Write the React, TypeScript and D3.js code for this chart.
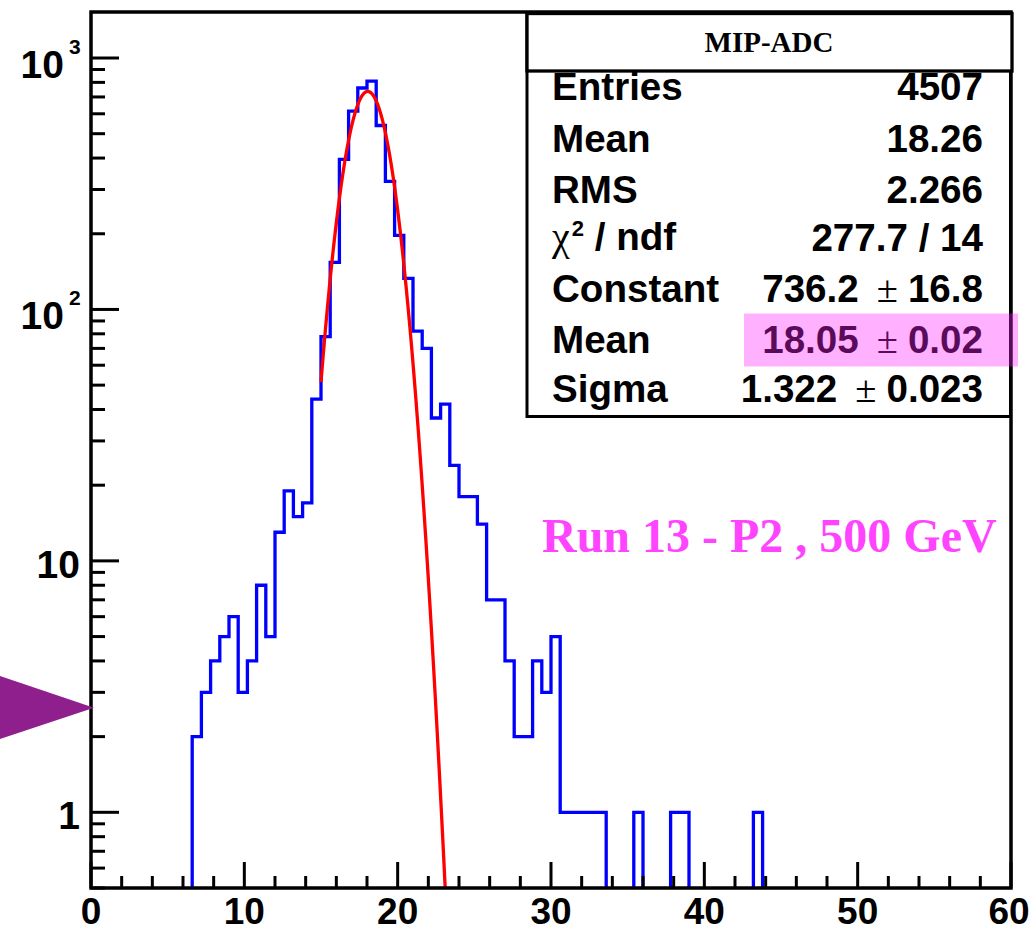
import React from 'react';
import * as d3 from 'd3';

// ---------- data ----------
const BIN_WIDTH = 0.6;
const FIRST_BIN_LOW = 6.6;
// bin contents starting at FIRST_BIN_LOW (bins 11..72 of 100 bins on [0,60])
const counts = [
  2, 3, 4, 5, 6, 3, 4, 8, 5, 13, 19, 15, 17, 44, 78, 154, 395, 615, 760, 809,
  539, 323, 197, 133, 82, 70, 37, 42, 24, 18, 18, 14, 7, 7, 4, 2, 2, 4, 3, 5,
  1, 1, 1, 1, 1, 0, 0, 0, 1, 0, 0, 0, 1, 1, 0, 0, 0, 0, 0, 0, 0, 1,
];
const xMajorTicks = [0, 10, 20, 30, 40, 50, 60];
const xMinorTicks = [2, 4, 6, 8, 12, 14, 16, 18, 22, 24, 26, 28, 32, 34, 36, 38, 42, 44, 46, 48, 52, 54, 56, 58];
const yMajorTicks = [1, 10, 100, 1000];
const yTickBase = ['1', '10', '10', '10'];
const yTickExp = ['', '', '2', '3'];

const FIT_CONSTANT = 736.2;
const FIT_MEAN = 18.05;
const FIT_SIGMA = 1.322;
const FIT_XMIN = 15.0;
const FIT_XMAX = 25.0;

const statTitle = 'MIP-ADC';
const statLabels = ['Entries', 'Mean', 'RMS', 'χ2 / ndf', 'Constant', 'Mean', 'Sigma'];
const statValues = ['4507', '18.26', '2.266', '277.7 / 14', '736.2 ± 16.8', '18.05 ± 0.02', '1.322 ± 0.023'];
const annotation = 'Run 13 - P2 , 500 GeV';

// ---------- layout ----------
const W = 1036;
const H = 932;
const L = 91;
const R = 1011;
const T = 12;
const B = 888;

const SANS = "'Liberation Sans', Arial, Helvetica, sans-serif";
const SERIF = "'Liberation Serif', 'Times New Roman', serif";

export default function App() {
  const x = d3.scaleLinear().domain([0, 60]).range([L, R]);
  const y = d3.scaleLog().domain([0.5, 1524]).range([B, T]);

  // histogram step outline
  const pts: [number, number][] = [];
  const yv = (v: number) => (v > 0 ? y(v) : B + 10);
  pts.push([x(FIRST_BIN_LOW), B + 10]);
  counts.forEach((c, i) => {
    const lo = FIRST_BIN_LOW + i * BIN_WIDTH;
    const hi = lo + BIN_WIDTH;
    pts.push([x(lo), yv(c)]);
    pts.push([x(hi), yv(c)]);
  });
  pts.push([x(FIRST_BIN_LOW + counts.length * BIN_WIDTH), B + 10]);
  const histPath = d3.line()(pts) || '';

  const fitX = d3.range(FIT_XMIN, FIT_XMAX + 1e-9, 0.02);
  const fitPts: [number, number][] = fitX.map((v) => {
    const g = FIT_CONSTANT * Math.exp(-0.5 * Math.pow((v - FIT_MEAN) / FIT_SIGMA, 2));
    return [x(v), g > 0.05 ? y(Math.max(g, 0.05)) : B + 200];
  });
  const fitPath = d3.line().curve(d3.curveLinear)(fitPts) || '';

  // y minor ticks
  const yMinor: number[] = [];
  [0.1, 1, 10, 100].forEach((d) => {
    for (let k = 2; k <= 9; k++) {
      const v = d * k;
      if (v >= 0.5 && v <= 1524) yMinor.push(v);
    }
  });

  const rowBase = [100, 151.5, 202.5, 250, 301.5, 352.5, 402];
  const labelX = 552;
  const valueX = 983;
  const fs = 38.6;

  const renderValue = (v: string) => {
    if (v.includes('±')) {
      const [a, b] = v.split('±').map((s) => s.trim());
      return (
        <>
          <tspan>{a}</tspan>
          <tspan dx={18} fontFamily={SERIF} fontWeight="normal">±</tspan>
          <tspan dx={10}>{b}</tspan>
        </>
      );
    }
    return <tspan>{v}</tspan>;
  };

  const renderLabel = (l: string) => {
    if (l.startsWith('χ2')) {
      return (
        <>
          <tspan fontFamily={SERIF} fontWeight="normal" fontSize={40}>χ</tspan>
          <tspan dx={2} dy={-14} fontSize={22}>2</tspan>
          <tspan dy={14}>{l.slice(2)}</tspan>
        </>
      );
    }
    return <tspan>{l}</tspan>;
  };

  return (
    <svg
      width={W}
      height={H}
      viewBox={`0 0 ${W} ${H}`}
      style={{ position: 'absolute', left: 0, top: 0, background: '#fff' }}
    >
      <defs>
        <clipPath id="frame">
          <rect x={L} y={T} width={R - L} height={B - T} />
        </clipPath>
      </defs>
      <rect x={0} y={0} width={W} height={H} fill="#fff" />

      {/* histogram + fit */}
      <g clipPath="url(#frame)">
        <path d={histPath} fill="none" stroke="#0000ff" strokeWidth={3.3} strokeLinejoin="miter" />
        <path d={fitPath} fill="none" stroke="#ff0000" strokeWidth={3.3} />
      </g>

      {/* x ticks */}
      {xMajorTicks.map((t) => (
        <line key={'xM' + t} x1={x(t)} x2={x(t)} y1={B} y2={B - 26} stroke="#000" strokeWidth={3} />
      ))}
      {xMinorTicks.map((t) => (
        <line key={'xm' + t} x1={x(t)} x2={x(t)} y1={B} y2={B - 12} stroke="#000" strokeWidth={3} />
      ))}
      {xMajorTicks.map((t) => (
        <text
          key={'xl' + t}
          x={x(t) + (t === 60 ? -2 : 0)}
          y={924}
          textAnchor="middle"
          fontFamily={SANS}
          fontWeight="bold"
          fontSize={37}
        >
          {String(t)}
        </text>
      ))}

      {/* y ticks */}
      {yMajorTicks.map((t) => (
        <line key={'yM' + t} x1={L} x2={L + 28} y1={y(t)} y2={y(t)} stroke="#000" strokeWidth={3} />
      ))}
      {yMinor.map((t) => (
        <line key={'ym' + t} x1={L} x2={L + 14} y1={y(t)} y2={y(t)} stroke="#000" strokeWidth={3} />
      ))}
      {yMajorTicks.map((t, i) =>
        yTickExp[i] ? (
          <g key={'yl' + t}>
            <text x={64} y={y(t) + 20} textAnchor="end" fontFamily={SANS} fontWeight="bold" fontSize={39}>
              {yTickBase[i]}
            </text>
            <text x={69} y={y(t) - 4} fontFamily={SANS} fontWeight="bold" fontSize={21}>
              {yTickExp[i]}
            </text>
          </g>
        ) : (
          <text key={'yl' + t} x={80} y={y(t) + 17} textAnchor="end" fontFamily={SANS} fontWeight="bold" fontSize={39}>
            {yTickBase[i]}
          </text>
        )
      )}

      {/* frame */}
      <rect x={L} y={T} width={R - L} height={B - T} fill="none" stroke="#000" strokeWidth={3.5} />

      {/* stats box */}
      <rect x={527} y={13.5} width={483.5} height={403} fill="#fff" stroke="#000" strokeWidth={3} />
      {statLabels.map((l, i) => (
        <text key={'sl' + i} x={labelX} y={rowBase[i]} fontFamily={SANS} fontWeight="bold" fontSize={fs} fill="#000">
          {renderLabel(l)}
        </text>
      ))}
      {statValues.map((v, i) => (
        <text
          key={'sv' + i}
          x={valueX}
          y={rowBase[i] + (i === 3 ? 1 : 0)}
          textAnchor="end"
          fontFamily={SANS}
          fontWeight="bold"
          fontSize={fs}
          fill="#000"
        >
          {renderValue(v)}
        </text>
      ))}
      <rect x={527} y={13.5} width={485} height={57.5} fill="#fff" stroke="#000" strokeWidth={3.3} />
      <text x={769} y={51.5} textAnchor="middle" fontFamily={SERIF} fontWeight="bold" fontSize={29}>
        {statTitle}
      </text>

      {/* highlight overlay */}
      <rect x={744} y={313.5} width={274} height={53} fill="rgb(255,31,255)" opacity={0.35} />

      {/* annotation */}
      <text x={542} y={552} fontFamily={SERIF} fontWeight="bold" fontSize={48} fill="#ff44ff">
        {annotation}
      </text>

      {/* arrow marker */}
      <polygon points="0,676 94,707.7 0,739" fill="#901f8e" />
    </svg>
  );
}
